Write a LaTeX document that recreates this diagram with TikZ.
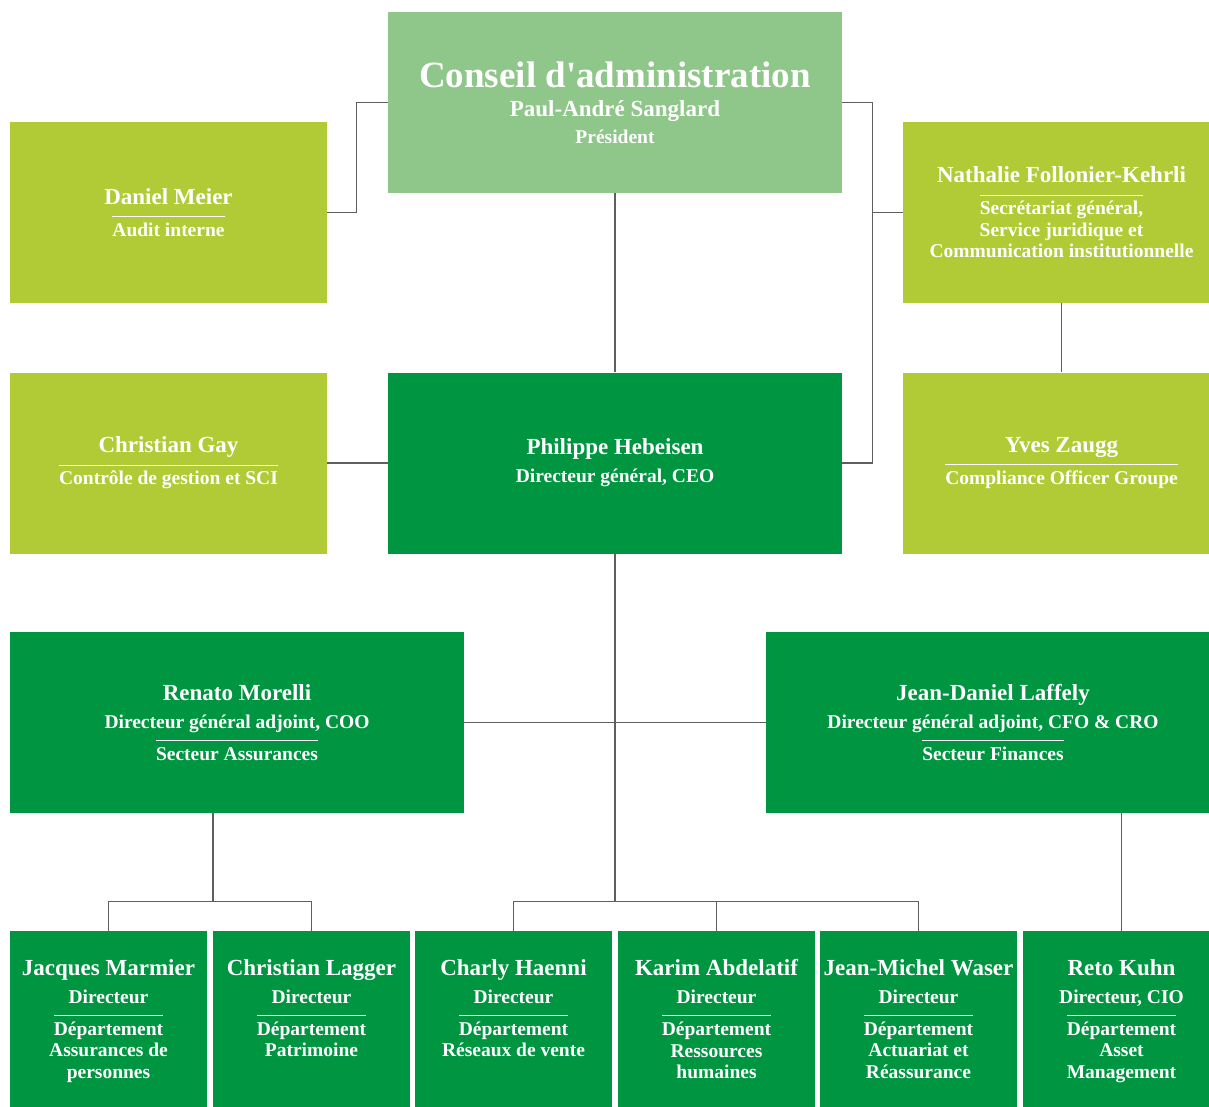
\documentclass[tikz,border=0pt]{standalone}
\usepackage{fontspec}
\setmainfont{Liberation Serif}
\usetikzlibrary{positioning}

\definecolor{boardgreen}{RGB}{143,198,137}
\definecolor{staffgreen}{RGB}{177,203,55}
\definecolor{execgreen}{RGB}{0,149,64}
\definecolor{linkgray}{RGB}{95,95,95}

\newcommand{\titlefont}{\bfseries\fontsize{37}{21.5}\selectfont}
\newcommand{\namefont}{\bfseries\fontsize{23}{21.5}\selectfont}
\newcommand{\rolefont}{\bfseries\fontsize{19.5}{21.5}\selectfont}

% thin white rule as wide as the line set under it
\newlength\seplen
\newcommand{\sepline}[1]{\\[-9pt]\settowidth{\seplen}{#1}\rule{\seplen}{0.8pt}\\[-2pt]#1}
\newcommand{\deptcard}[3]{\parbox[t][124pt][t]{197pt}{\centering
  {\namefont #1}\\[6.5pt]#2\sepline{Département}\\#3}}

\tikzstyle{box} = [rectangle, inner sep=0pt, align=center, text=white, font=\rolefont]
\tikzstyle{board} = [box, fill=boardgreen, minimum width=454pt, minimum height=181pt]
\tikzstyle{staff} = [box, fill=staffgreen, minimum width=317pt, minimum height=181pt]
\tikzstyle{exec} = [box, fill=execgreen, minimum width=454pt, minimum height=181pt]
\tikzstyle{dept} = [box, fill=execgreen, minimum width=197pt, minimum height=181pt]
\tikzstyle{link} = [draw=linkgray, line width=1.2pt]

\begin{document}
\begin{tikzpicture}[x=1pt, y=-1pt]
  \useasboundingbox (0,0) rectangle (1209,1107);
  \clip (0,0) rectangle (1209,1107);

  % board and staff functions
  \node[board] (board) at (615,102.5)
    {{\titlefont Conseil d\textquotesingle administration}\\[8pt]{\namefont Paul-André Sanglard}\\[5pt]Président};
  \node[staff] (audit) at (168.5,212.5) {{\namefont Daniel Meier}\sepline{Audit interne}};
  \node[staff] (secgen) at (1061.5,212.5)
    {{\namefont Nathalie Follonier-Kehrli}\sepline{Secrétariat général,}\\Service juridique et\\Communication institutionnelle};
  \node[staff] (control) at (168.5,463) {{\namefont Christian Gay}\sepline{Contrôle de gestion et SCI}};
  \node[exec] (ceo) at (615,463) {{\namefont Philippe Hebeisen}\\[6.5pt]Directeur général, CEO};
  \node[staff] (compliance) at (1061.5,463) {{\namefont Yves Zaugg}\sepline{Compliance Officer Groupe}};

  % sectors
  \node[exec] (ins) at (237,722.5)
    {{\namefont Renato Morelli}\\[6.5pt]Directeur général adjoint, COO\sepline{Secteur Assurances}};
  \node[exec] (fin) at (993,722.5)
    {{\namefont Jean-Daniel Laffely}\\[6.5pt]Directeur général adjoint, CFO \& CRO\sepline{Secteur Finances}};

  % departments
  \node[dept] (pers) at (108.5,1021.5) {\deptcard{Jacques Marmier}{Directeur}{Assurances de\\personnes}};
  \node[dept] (patr) at (311.5,1021.5) {\deptcard{Christian Lagger}{Directeur}{Patrimoine}};
  \node[dept] (sales) at (513.5,1021.5) {\deptcard{Charly Haenni}{Directeur}{Réseaux de vente}};
  \node[dept] (hr) at (716.5,1021.5) {\deptcard{Karim Abdelatif}{Directeur}{Ressources\\humaines}};
  \node[dept] (act) at (918.5,1021.5) {\deptcard{Jean-Michel Waser}{Directeur}{Actuariat et\\Réassurance}};
  \node[dept] (am) at (1121.5,1021.5) {\deptcard{Reto Kuhn}{Directeur, CIO}{Asset\\Management}};

  \draw[link] (board.west) -- ++(-31,0) |- (audit.east);
  \draw[link] (board.east) -- ++(30,0) |- (ceo.east);
  \draw[link] (secgen.west) -- ++(-31,0);
  \draw[link] (board) -- (ceo);
  \draw[link] (secgen) -- (compliance);
  \draw[link] (control) -- (ceo);
  \draw[link] (ins) -- (fin);
  \draw[link] (ceo.south) -- ++(0,348) coordinate (hub);
  \draw[link] (sales.north) |- (hub) -| (act.north);
  \draw[link] (hr) -- (hr |- hub);
  \draw[link] ([xshift=-24pt]ins.south) -- ++(0,88) coordinate (insbus);
  \draw[link] (pers.north) |- (insbus) -| (patr.north);
  \draw[link] (fin.south -| am.north) -- (am.north);
\end{tikzpicture}
\end{document}
